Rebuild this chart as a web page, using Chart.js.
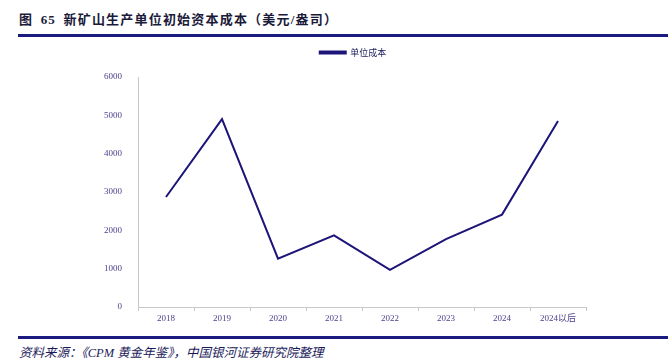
<!DOCTYPE html>
<html>
<head>
<meta charset="utf-8">
<script src="https://cdn.jsdelivr.net/npm/chart.js@4/dist/chart.umd.min.js"></script>
<style>
  body { margin: 0; width: 668px; height: 362px; background: #fff; position: relative; overflow: hidden; }
  .title { position: absolute; left: 19px; top: 9px; font: bold 13px "Liberation Serif", "Noto Sans CJK SC", serif; color: #1a1a3a; letter-spacing: 1.2px; word-spacing: 3px; }
  .rule { position: absolute; left: 18px; right: 0; height: 3px; background: #1a1a80; }
  .source { position: absolute; left: 19px; top: 342px; font: italic 12.5px "Liberation Serif", "Noto Sans CJK SC", serif; color: #1a1a5a; }
  #wrap { position: absolute; left: 0; top: 0; width: 668px; height: 362px; }
</style>
</head>
<body>
<div class="title">图 65 新矿山生产单位初始资本成本（美元/盎司）</div>
<div class="rule" style="top:34px"></div>
<div class="rule" style="top:336px"></div>
<div class="source">资料来源：《CPM 黄金年鉴》，中国银河证券研究院整理</div>
<div id="wrap"><canvas id="chart"></canvas></div>
<script>
// data
const years = ['2018', '2019', '2020', '2021', '2022', '2023', '2024', '2024以后'];
const unit_cost = [2870, 4900, 1260, 1870, 970, 1770, 2410, 4850];
const y_ticks = [0, 1000, 2000, 3000, 4000, 5000, 6000];

const tick_font = { family: '"Liberation Serif", "Noto Sans CJK SC", serif', size: 9 };
const tick_color = '#4b3f8c';

// legend needs more room below it, and sits a bit right of centre
const legendTweak = {
  id: 'legendTweak',
  beforeLayout(chart) {
    const lg = chart.legend;
    if (lg && !lg._patched) {
      const f = lg.fit;
      lg.fit = function () { f.call(this); this.height += 10; };
      lg._patched = true;
    }
  },
  afterLayout(chart) {
    const lg = chart.legend;
    if (lg) { lg.left += 60; lg.right += 60; }
  }
};

const data = {
  labels: years,
  datasets: [{
    label: '单位成本',
    data: unit_cost,
    borderColor: '#1c1478',
    backgroundColor: '#1c1478',
    borderWidth: 2,
    pointRadius: 0,
    tension: 0
  }]
};

const config = {
  type: 'line',
  data: data,
  plugins: [legendTweak],
  options: {
    responsive: false,
    animation: false,
    layout: { padding: { left: 0, right: 82, top: 36, bottom: 0 } },
    plugins: {
      legend: {
        labels: {
          boxWidth: 26, boxHeight: 2, padding: 12,
          color: '#1a1a5a',
          font: { family: '"Noto Sans CJK SC", serif', size: 9 }
        }
      },
      tooltip: { enabled: false }
    },
    scales: {
      x: {
        offset: true,
        grid: { offset: true, drawOnChartArea: false, drawTicks: true, tickLength: 4, color: '#c8c8c8' },
        border: { color: '#c8c8c8', width: 1 },
        ticks: { color: tick_color, font: tick_font, padding: 2, maxRotation: 0 },
        afterFit: (scale) => { scale.height = 55; }
      },
      y: {
        min: 0, max: 6000,
        afterBuildTicks: (scale) => { scale.ticks = y_ticks.map(v => ({ value: v })); },
        grid: { display: false },
        border: { color: '#c8c8c8', width: 1 },
        ticks: { color: tick_color, font: tick_font, padding: 8, callback: (v) => String(v) },
        afterFit: (scale) => { scale.width = 138; }
      }
    }
  }
};

const canvas = document.getElementById('chart');
canvas.width = 668;
canvas.height = 362;
var myChart = new Chart(canvas, config);
</script>
</body>
</html>
